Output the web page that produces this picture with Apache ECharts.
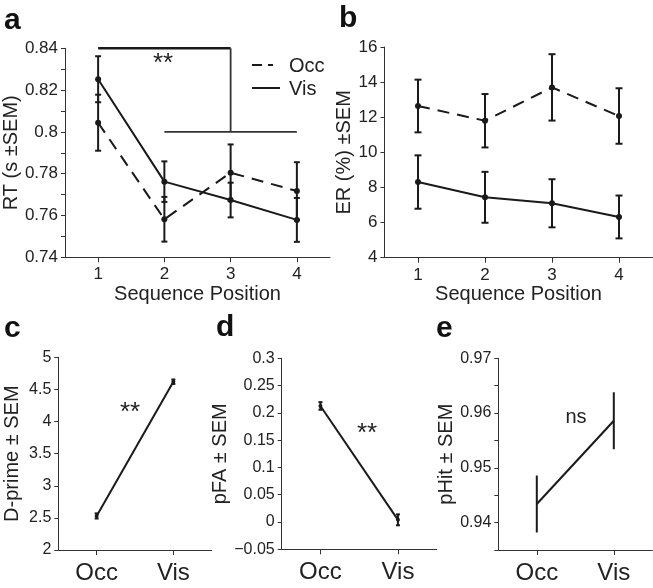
<!DOCTYPE html>
<html>
<head>
<meta charset="utf-8">
<script src="https://cdn.jsdelivr.net/npm/echarts@6/dist/echarts.min.js"></script>
<style>
html,body{margin:0;padding:0;background:#fff;}
#chart{width:653px;height:588px;}
</style>
</head>
<body>
<div id="chart"></div>
<script>
// ---------- data ----------
const seqPositions = ['1', '2', '3', '4'];
const rtOcc = [0.8044, 0.7582, 0.7805, 0.7717];
const rtOccSem = [0.0134, 0.0107, 0.0135, 0.0138];
const rtVis = [0.8252, 0.7762, 0.7674, 0.7579];
const rtVisSem = [0.0110, 0.0097, 0.0083, 0.0105];

const erOcc = [12.64, 11.80, 13.70, 12.07];
const erOccSem = [1.50, 1.52, 1.89, 1.58];
const erVis = [8.31, 7.44, 7.10, 6.32];
const erVisSem = [1.52, 1.45, 1.37, 1.22];

const conditions = ['Occ', 'Vis'];
const dprime = [2.53, 4.62];
const dprimeSem = [0.04, 0.035];
const pfa = [0.2127, 0.004];
const pfaSem = [0.007, 0.010];
const phit = [0.9434, 0.9586];
const phitSem = [0.0052, 0.0052];

// significance bracket in panel a: [fromCat, toCat, level, fromCat2, toCat2, level2]
const rtBracket = [0, 2, 0.84, 1, 3, 0.80];

// ---------- style ----------
const FONT = '"Liberation Sans", Arial, Helvetica, sans-serif';
const INK = '#1a1a1a';
const AX = '#333';
const TXT = '#222';

function errData(means, sems) {
  return means.map((m, i) => [i, m, sems[i]]);
}
function errRender(cap) {
  return function (params, api) {
    const x = api.value(0), m = api.value(1), s = api.value(2);
    const top = api.coord([x, m + s]);
    const bot = api.coord([x, m - s]);
    const st = { stroke: INK, lineWidth: 2 };
    const ch = [{ type: 'line', shape: { x1: top[0], y1: top[1], x2: bot[0], y2: bot[1] }, style: st }];
    if (cap > 0) {
      ch.push({ type: 'line', shape: { x1: top[0] - cap, y1: top[1], x2: top[0] + cap, y2: top[1] }, style: st });
      ch.push({ type: 'line', shape: { x1: bot[0] - cap, y1: bot[1], x2: bot[0] + cap, y2: bot[1] }, style: st });
    }
    return { type: 'group', children: ch };
  };
}
function bracketRender(params, api) {
  const a1 = api.coord([api.value(0), api.value(2)]);
  const a2 = api.coord([api.value(1), api.value(2)]);
  const b1 = api.coord([api.value(3), api.value(5)]);
  const b2 = api.coord([api.value(4), api.value(5)]);
  return {
    type: 'group', children: [
      { type: 'line', shape: { x1: a1[0], y1: a1[1], x2: a2[0], y2: a2[1] }, style: { stroke: INK, lineWidth: 2.5 } },
      { type: 'line', shape: { x1: a2[0], y1: a2[1], x2: a2[0], y2: b1[1] }, style: { stroke: '#333', lineWidth: 1.8 } },
      { type: 'line', shape: { x1: b1[0], y1: b1[1], x2: b2[0], y2: b2[1] }, style: { stroke: '#333', lineWidth: 1.8 } }
    ]
  };
}

function xCat(gi, cats, fs, margin, name, nameGap) {
  return {
    type: 'category', gridIndex: gi, data: cats, boundaryGap: true,
    axisLine: { show: true, onZero: false, lineStyle: { color: AX, width: 1 } },
    axisTick: { show: true, alignWithLabel: true, length: 5, lineStyle: { color: AX } },
    axisLabel: { fontSize: fs, fontFamily: FONT, color: TXT, margin: margin },
    splitLine: { show: false },
    name: name || '', nameLocation: 'middle', nameGap: nameGap || 0,
    nameTextStyle: { fontSize: 20, fontFamily: FONT, color: TXT }
  };
}
function yVal(gi, min, max, interval, fs, name, nameGap, fmt) {
  return {
    type: 'value', gridIndex: gi, min: min, max: max, interval: interval,
    axisLine: { show: true, onZero: false, lineStyle: { color: AX, width: 1 } },
    axisTick: { show: true, length: 4, lineStyle: { color: AX } },
    axisLabel: { fontSize: fs, fontFamily: FONT, color: TXT, margin: 7, formatter: fmt },
    splitLine: { show: false },
    name: name, nameLocation: 'middle', nameGap: nameGap,
    nameTextStyle: { fontSize: 20, fontFamily: FONT, color: TXT }
  };
}
function lineSeries(xi, data, dashed, symSize) {
  return {
    type: 'line', xAxisIndex: xi, yAxisIndex: xi, data: data,
    symbol: symSize > 0 ? 'circle' : 'none', symbolSize: symSize,
    itemStyle: { color: INK },
    lineStyle: { color: INK, width: 2, type: dashed ? [12, 8] : 'solid' },
    silent: true, animation: false, z: 3
  };
}
function errSeries(xi, means, sems, cap) {
  return {
    type: 'custom', xAxisIndex: xi, yAxisIndex: xi, data: errData(means, sems),
    encode: { x: 0, y: 1 }, renderItem: errRender(cap), silent: true, animation: false, z: 4
  };
}

const fmtA = v => (Math.round(v * 1000) % 20 === 0) ? String(+v.toFixed(2)) : '';
const fmtD = v => String(+v.toFixed(2)).replace('-', '\u2212');
const fmtE = v => (Math.round(v * 1000) % 10 === 0) ? String(+v.toFixed(2)) : '';

const option = {
  backgroundColor: '#fff',
  animation: false,
  grid: [
    { left: 62, top: 48.3, width: 268, height: 209 },
    { left: 384.5, top: 47, width: 268, height: 210.7 },
    { left: 58.3, top: 357.3, width: 153.4, height: 192.7 },
    { left: 281.7, top: 358.3, width: 155, height: 191 },
    { left: 498.3, top: 358.3, width: 154, height: 191.7 }
  ],
  xAxis: [
    xCat(0, seqPositions, 17, 9, 'Sequence Position', 27),
    xCat(1, seqPositions, 17, 9, 'Sequence Position', 27),
    xCat(2, conditions, 24, 11),
    xCat(3, conditions, 24, 11),
    xCat(4, conditions, 24, 11)
  ],
  yAxis: [
    yVal(0, 0.74, 0.84, 0.01, 17, 'RT (s \u00b1SEM)', 38, fmtA),
    yVal(1, 4, 16, 2, 17, 'ER (%) \u00b1SEM', 29),
    yVal(2, 2, 5, 0.5, 16, 'D-prime \u00b1 SEM', 36),
    yVal(3, -0.05, 0.3, 0.05, 16, 'pFA \u00b1 SEM', 44, fmtD),
    yVal(4, 0.935, 0.97, 0.005, 16, 'pHit \u00b1 SEM', 42, fmtE)
  ],
  series: [
    lineSeries(0, rtOcc, true, 6),
    lineSeries(0, rtVis, false, 6),
    errSeries(0, rtOcc, rtOccSem, 3),
    errSeries(0, rtVis, rtVisSem, 3),
    {
      type: 'custom', xAxisIndex: 0, yAxisIndex: 0, data: [rtBracket],
      encode: { x: 0, y: 2 }, renderItem: bracketRender, silent: true, animation: false, z: 2
    },
    lineSeries(1, erOcc, true, 6),
    lineSeries(1, erVis, false, 6),
    errSeries(1, erOcc, erOccSem, 3.5),
    errSeries(1, erVis, erVisSem, 3.5),
    lineSeries(2, dprime, false, 4),
    errSeries(2, dprime, dprimeSem, 2),
    lineSeries(3, pfa, false, 4),
    errSeries(3, pfa, pfaSem, 2),
    lineSeries(4, phit, false, 0),
    errSeries(4, phit, phitSem, 0)
  ],
  graphic: [
    // panel letters
    { type: 'text', style: { text: 'a', x: 4, y: 21, fontSize: 30, fontWeight: 'bold', fontFamily: FONT, fill: '#111', verticalAlign: 'middle' } },
    { type: 'text', style: { text: 'b', x: 339, y: 19, fontSize: 30, fontWeight: 'bold', fontFamily: FONT, fill: '#111', verticalAlign: 'middle' } },
    { type: 'text', style: { text: 'c', x: 4, y: 329, fontSize: 30, fontWeight: 'bold', fontFamily: FONT, fill: '#111', verticalAlign: 'middle' } },
    { type: 'text', style: { text: 'd', x: 216, y: 328, fontSize: 30, fontWeight: 'bold', fontFamily: FONT, fill: '#111', verticalAlign: 'middle' } },
    { type: 'text', style: { text: 'e', x: 436, y: 329, fontSize: 30, fontWeight: 'bold', fontFamily: FONT, fill: '#111', verticalAlign: 'middle' } },
    // legend
    { type: 'line', shape: { x1: 252, y1: 65, x2: 273, y2: 65 }, style: { stroke: INK, lineWidth: 2, lineDash: [10, 6] } },
    { type: 'line', shape: { x1: 252, y1: 88, x2: 280, y2: 88 }, style: { stroke: INK, lineWidth: 2 } },
    { type: 'text', style: { text: 'Occ', x: 289, y: 66, fontSize: 20, fontFamily: FONT, fill: TXT, verticalAlign: 'middle' } },
    { type: 'text', style: { text: 'Vis', x: 289, y: 89, fontSize: 20, fontFamily: FONT, fill: TXT, verticalAlign: 'middle' } },
    // significance annotations
    { type: 'text', style: { text: '**', x: 163, y: 64, fontSize: 26, fontFamily: FONT, fill: TXT, align: 'center', verticalAlign: 'middle' } },
    { type: 'text', style: { text: '**', x: 130, y: 413, fontSize: 26, fontFamily: FONT, fill: TXT, align: 'center', verticalAlign: 'middle' } },
    { type: 'text', style: { text: '**', x: 367, y: 434, fontSize: 26, fontFamily: FONT, fill: TXT, align: 'center', verticalAlign: 'middle' } },
    { type: 'text', style: { text: 'ns', x: 576, y: 417, fontSize: 20, fontFamily: FONT, fill: TXT, align: 'center', verticalAlign: 'middle' } }
  ]
};

const chart = echarts.init(document.getElementById('chart'), null, { renderer: 'canvas' });
chart.setOption(option);
</script>
</body>
</html>
